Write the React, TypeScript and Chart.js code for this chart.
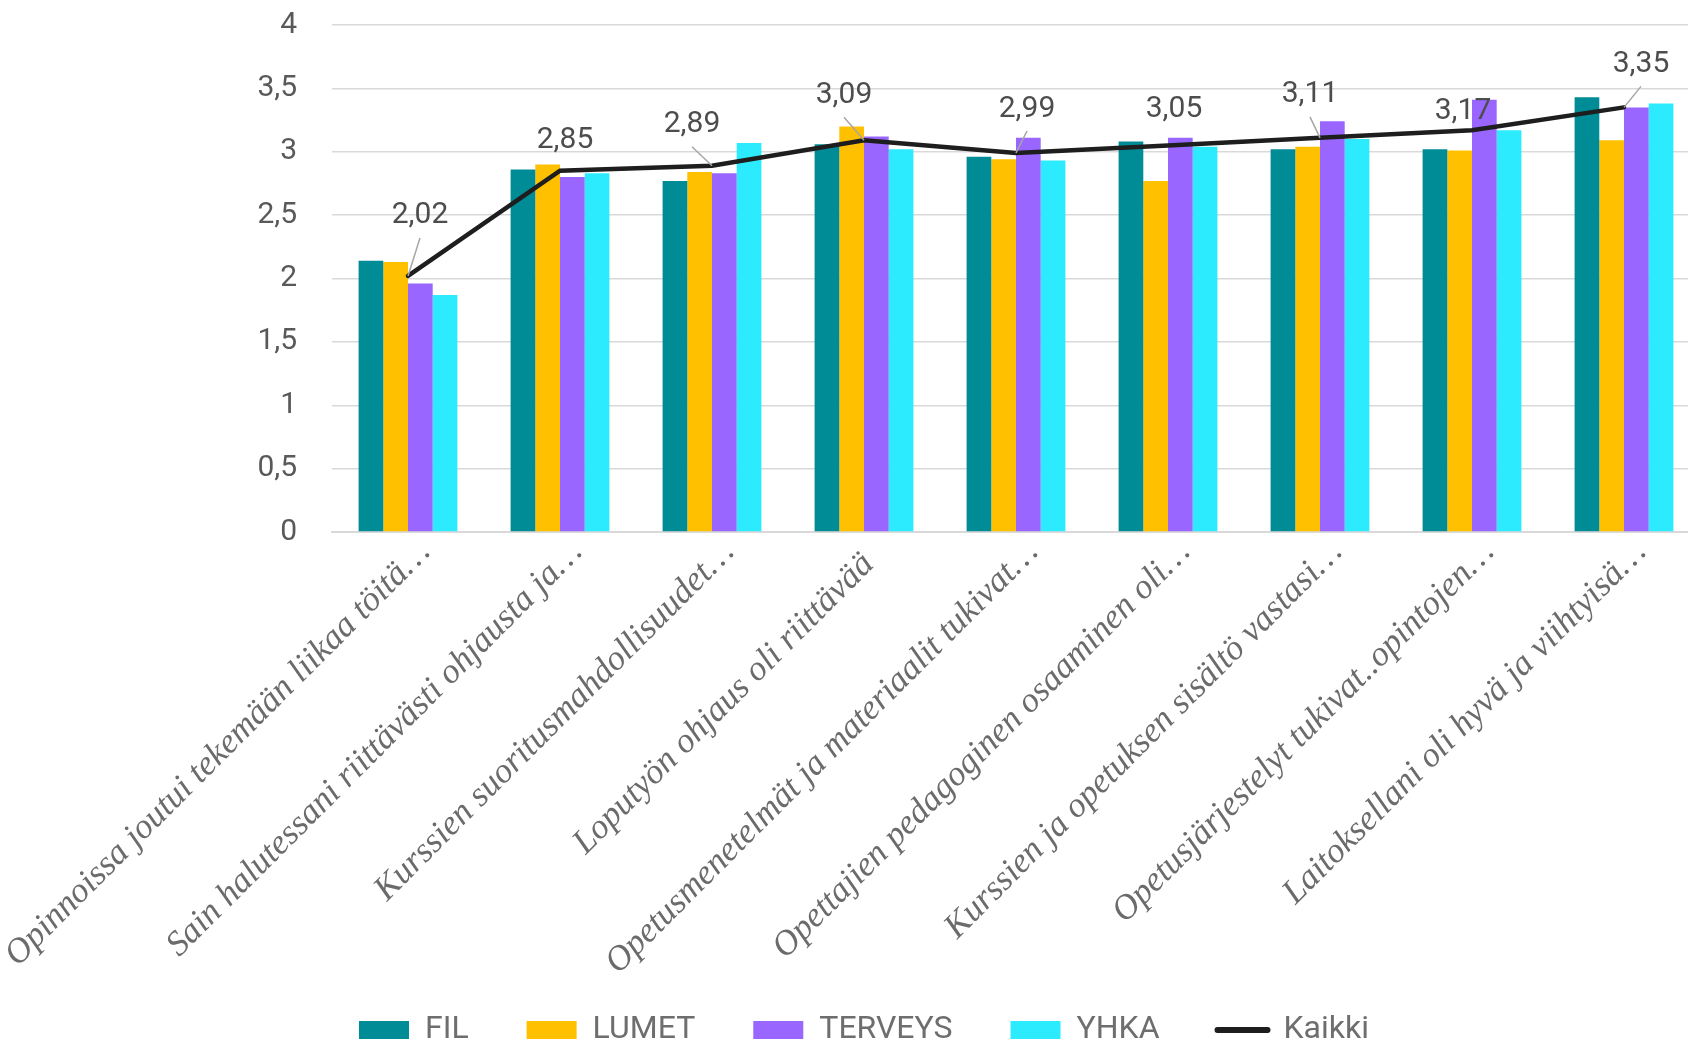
import React, { useEffect, useRef } from "react";
import { Chart, registerables } from "chart.js";

Chart.register(...registerables);

const categories = [
  "Opinnoissa joutui tekemään liikaa töitä…",
  "Sain halutessani riittävästi ohjausta ja…",
  "Kurssien suoritusmahdollisuudet…",
  "Loputyön ohjaus oli riittävää  ",
  "Opetusmenetelmät ja materiaalit tukivat…",
  "Opettajien pedagoginen osaaminen oli…",
  "Kurssien ja opetuksen sisältö vastasi…",
  "Opetusjärjestelyt tukivat..opintojen…",
  "Laitoksellani oli hyvä ja viihtyisä…",
];

const filValues = [2.14, 2.86, 2.77, 3.06, 2.96, 3.08, 3.02, 3.02, 3.43];
const lumetValues = [2.13, 2.9, 2.84, 3.2, 2.94, 2.77, 3.04, 3.01, 3.09];
const terveysValues = [1.96, 2.8, 2.83, 3.12, 3.11, 3.11, 3.24, 3.41, 3.35];
const yhkaValues = [1.87, 2.83, 3.07, 3.02, 2.93, 3.04, 3.1, 3.17, 3.38];
const kaikkiValues = [2.02, 2.85, 2.89, 3.09, 2.99, 3.05, 3.11, 3.17, 3.35];

const seriesNames = ["FIL", "LUMET", "TERVEYS", "YHKA", "Kaikki"];
const yTickValues = [0, 0.5, 1, 1.5, 2, 2.5, 3, 3.5, 4];

// label placement (style only): offset of each Kaikki label from its point
const labelDx = [12, 5, -20, -20, 11, 6, -10, -9, 17];
const labelDy = [-60, -30, -41, -45, -44, -36, -43, -19, -43];

const COLORS = ["#008C96", "#FFC000", "#9966FF", "#2CEBFF"];
const LINE_COLOR = "#1E1E1E";

const fmt = (v: number) => String(v).replace(".", ",");

const kaikkiLabels = {
  id: "kaikkiLabels",
  afterDatasetsDraw(chart: any) {
    const idx = chart.data.datasets.length - 1;
    const meta = chart.getDatasetMeta(idx);
    const ctx = chart.ctx;
    ctx.save();
    meta.data.forEach((pt: any, i: number) => {
      const lx = pt.x + labelDx[i];
      const ly = pt.y + labelDy[i];
      if (labelDy[i] < -38) {
        ctx.beginPath();
        ctx.strokeStyle = "#A6A6A6";
        ctx.lineWidth = 1.5;
        ctx.moveTo(lx, ly + 22);
        ctx.lineTo(pt.x, pt.y);
        ctx.stroke();
      }
      ctx.font = "30px Roboto, 'Noto Sans', sans-serif";
      ctx.fillStyle = "#4D4D4D";
      ctx.textAlign = "center";
      ctx.textBaseline = "middle";
      ctx.fillText(fmt(kaikkiValues[i]), lx, ly);
    });
    ctx.restore();
  },
};

export default function App() {
  const ref = useRef<HTMLCanvasElement | null>(null);

  useEffect(() => {
    if (!ref.current) return;
    const barData = [filValues, lumetValues, terveysValues, yhkaValues];
    const chart = new Chart(ref.current, {
      type: "bar",
      data: {
        labels: categories,
        datasets: [
          ...barData.map((d, i) => ({
            type: "bar" as const,
            label: seriesNames[i],
            data: d,
            backgroundColor: COLORS[i],
            borderWidth: 0,
            barPercentage: 1,
            categoryPercentage: 0.65,
            order: 1,
          })),
          {
            type: "line" as const,
            label: seriesNames[4],
            data: kaikkiValues,
            borderColor: LINE_COLOR,
            backgroundColor: LINE_COLOR,
            borderWidth: 4.5,
            pointRadius: 0,
            tension: 0,
            order: 0,
            borderCapStyle: "round",
          },
        ],
      } as any,
      plugins: [kaikkiLabels],
      options: {
        animation: false,
        responsive: false,
        layout: { padding: { top: 25, right: 0, left: 28, bottom: -12 } },
        scales: {
          x: {
            offset: true,
            grid: { display: false, drawTicks: false },
            border: { display: true, color: "#D9D9D9", width: 2 },
            ticks: {
              autoSkip: false,
              maxRotation: 45,
              minRotation: 45,
              padding: 0,
              labelOffset: 17,
              color: "#6B6B6B",
              font: { family: "'Liberation Serif', serif", style: "italic", size: 35 },
            },
            afterFit: (s: any) => {
              s.paddingLeft = 0;
              s.paddingRight = 0;
              s.height = 424;
              s._computeLabelArea = () => undefined;
            },
          },
          y: {
            min: 0,
            max: 4,
            afterBuildTicks: (s: any) => {
              s.ticks = yTickValues.map((v) => ({ value: v }));
            },
            grid: { color: "#D9D9D9", lineWidth: 1.5, drawTicks: false },
            border: { display: false },
            ticks: {
              padding: 35,
              color: "#595959",
              font: { family: "Roboto, 'Noto Sans', sans-serif", size: 30 },
              callback: (v: any) => fmt(Number(v)),
            },
            afterFit: (s: any) => {
              s.width = 304;
              s.paddingTop = 0;
              s.paddingBottom = 0;
            },
          },
        },
        plugins: {
          legend: {
            position: "bottom",
            labels: {
              usePointStyle: true,
              pointStyleWidth: 50,
              boxHeight: 18,
              padding: 58,
              color: "#6E6E6E",
              font: { family: "Roboto, 'Noto Sans', sans-serif", size: 32 },
              sort: (a: any, b: any) => a.datasetIndex - b.datasetIndex,
              generateLabels: (c: any) => {
                const items = Chart.defaults.plugins.legend.labels.generateLabels(c);
                items.forEach((it: any) => {
                  if (it.datasetIndex === 4) {
                    it.pointStyle = "line";
                    it.strokeStyle = LINE_COLOR;
                    it.fillStyle = LINE_COLOR;
                    it.lineWidth = 6;
                    it.lineCap = "round";
                  } else {
                    it.pointStyle = "rect";
                    it.lineWidth = 0;
                  }
                });
                return items;
              },
            },
          },
          tooltip: { enabled: false },
        },
      },
    });
    return () => chart.destroy();
  }, []);

  return (
    <div
      style={{
        position: "absolute",
        left: 0,
        top: 0,
        width: 1688,
        height: 1044,
        overflow: "hidden",
        background: "#ffffff",
      }}
    >
      <canvas ref={ref} width={1700} height={1044} style={{ display: "block" }} />
    </div>
  );
}
